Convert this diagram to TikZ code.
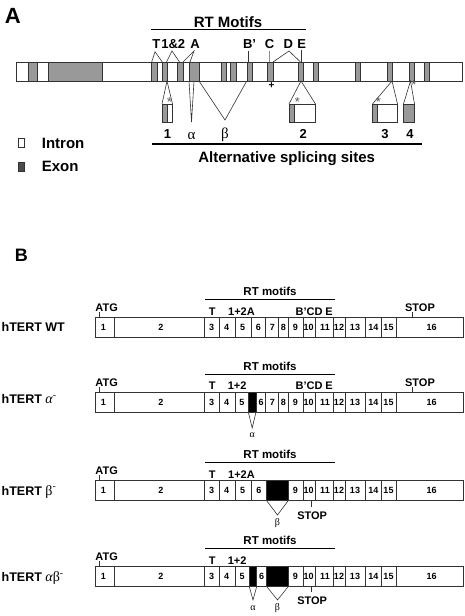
\documentclass[tikz,border=0pt]{standalone}
\usepackage{fontspec}
\setmainfont{Liberation Sans}
\newfontfamily\greekfont{Liberation Serif}
\begin{document}
\begin{tikzpicture}[x=1pt, y=-1pt,
        outline/.style={draw=black!80, line width=0.6pt},
        exon/.style={outline, fill=black!40},
        deleted/.style={outline, fill=black},
        rule/.style={line width=1.3pt},
        panel/.style={font=\fontsize{22}{24}\selectfont\bfseries, inner sep=0, anchor=base},
        headA/.style={font=\fontsize{15}{18}\selectfont\bfseries, inner sep=0, anchor=base},
        motif/.style={font=\fontsize{13}{15}\selectfont\bfseries, inner sep=0, anchor=base},
        star/.style={font=\fontsize{13}{15}\selectfont, text=black!65, inner sep=0},
        greekA/.style={font=\fontsize{15}{18}\selectfont\greekfont, inner sep=0, anchor=base},
        headB/.style={font=\fontsize{11.5}{14}\selectfont\bfseries, inner sep=0, anchor=base},
        tag/.style={font=\fontsize{11}{13}\selectfont\bfseries, inner sep=0, anchor=base},
        exnum/.style={font=\fontsize{9}{11}\selectfont\bfseries, inner sep=0},
        rowname/.style={font=\fontsize{12.5}{15}\selectfont\bfseries, inner sep=0, anchor=base west},
        greekB/.style={font=\fontsize{10}{12}\selectfont\greekfont, inner sep=0, anchor=base}]
    \useasboundingbox (0,0) rectangle (465,616);

    % A: gene with exons and motifs
    \node[panel] (labA) at (12.8,23.3) {A};
    \node[headA] (rtA) at (228,27.3) {RT Motifs};
    \draw[rule] (150.5,29.5) -- (306,29.5);
    \draw[outline] (16,62) rectangle (462,81);
    \foreach \a/\b in {28/37, 48/102, 151/157, 162/167, 177/183, 189/199, 221/226, 230/236,
                       247/252, 267/273, 298/303, 313/318, 355/360, 387/392, 409/414, 424/429}
        \draw[exon] (\a,62) rectangle (\b,81);

    \node[motif] (motT) at (156.3,48.3) {T};
    \node[motif] (mot12) at (173.3,48.3) {1\&2};
    \node[motif] (motA) at (195,48.3) {A};
    \node[motif] (motB) at (249.5,48.3) {B’};
    \node[motif] (motC) at (269.5,48.3) {C};
    \node[motif] (motD) at (288.3,48.3) {D};
    \node[motif] (motE) at (301.8,48.3) {E};
    \coordinate (apT) at (155,51.7);
    \coordinate (ap12) at (172,51);
    \coordinate (apA) at (194,51);
    \coordinate (apB) at (248.3,51);
    \coordinate (apC) at (269.5,51);
    \coordinate (apD) at (289,51);
    \coordinate (apE) at (301.5,50);
    \draw[outline] (151.7,62) -- (apT) -- (162.3,62);
    \draw[outline] (166.5,62) -- (ap12) -- (179.5,62);
    \draw[outline] (183,62) -- (apA) -- (190,62);
    \draw[outline] (apB) -- (248.3,62);
    \draw[outline, draw=black!45] (apC) -- (269.5,62);
    \draw[outline] (273,62) -- (apD) -- (300.5,62);
    \draw[outline] (apE) -- (301.5,62);
    \node[font=\fontsize{10}{12}\selectfont\bfseries, inner sep=0] (plus) at (271.5,86) {+};

    % A: alternative splicing sites
    \coordinate (s1) at (167,81);
    \draw[outline] (162,104) -- (s1) -- (172.5,104);
    \draw[outline] (162,104) rectangle (172.5,122);
    \draw[exon] (162,104) rectangle (167,122);
    \node[star] (ast1) at (169.5,102.5) {*};
    \coordinate (alTip) at (191.5,122);
    \draw[outline] (189,81) -- (alTip) -- (194,81);
    \coordinate (beTip) at (225,120);
    \draw[outline] (199,81) -- (beTip) -- (246.7,81);
    \coordinate (s2) at (301,81);
    \draw[outline] (289,104) -- (s2) -- (315.5,104);
    \draw[outline] (289,104) rectangle (315.5,122);
    \draw[exon] (289,104) rectangle (294,122);
    \node[star] (ast2) at (297.5,102.5) {*};
    \coordinate (s3) at (392,81);
    \draw[outline] (372.5,104) -- (s3) -- (397.5,104);
    \draw[outline] (372,104) rectangle (397.5,122);
    \draw[exon] (372,104) rectangle (377.5,122);
    \node[star] (ast3) at (378.5,102.5) {*};
    \coordinate (s4) at (410.5,81);
    \draw[outline] (403.5,104) -- (s4) -- (414.5,104);
    \draw[exon] (403.5,104) rectangle (414.5,122);
    \node[star] (ast4) at (414,85.5) {*};

    \node[motif] (site1) at (167.5,138.3) {1};
    \node[greekA] (alphaA) at (191.5,139.3) {α};
    \node[greekA] (betaA) at (225,138.7) {β};
    \node[motif] (site2) at (303.3,138.3) {2};
    \node[motif] (site3) at (385,138.3) {3};
    \node[motif] (site4) at (410,138.3) {4};
    \draw[rule] (151.5,144) -- (421.5,144);
    \node[headA] (altA) at (286.7,162.7) {Alternative splicing sites};

    % A: legend
    \node[outline, fill=white, minimum width=5.3pt, minimum height=9.3pt, inner sep=0] (swIntron) at (21.3,142.7) {};
    \node[headA, anchor=base west] (intron) at (41.7,148.3) {Intron};
    \node[outline, fill=black!70, minimum width=5.3pt, minimum height=9.3pt, inner sep=0] (swExon) at (21.3,167) {};
    \node[headA, anchor=base west] (exonA) at (41.7,171.7) {Exon};

    % B: transcripts
    \node[panel, font=\fontsize{18}{20}\selectfont\bfseries] (labB) at (21.3,261.7) {B};

    % hTERT WT
    \begin{scope}[shift={(0,317.5)}]
        \node[rowname] (wtName) at (1.5,14.2) {hTERT WT};
        \node[headB] (wtRT) at (270,-22) {RT motifs};
        \draw[rule] (205,-17.8) -- (335,-17.8);
        \node[tag] (wtATG) at (106.7,-5.8) {ATG};
        \node[tag] (wtT) at (212.3,-2.3) {T};
        \node[tag] (wt12) at (241.5,-2.3) {1+2A};
        \node[tag] (wtBE) at (314.2,-2.3) {B’CD E};
        \node[tag] (wtSTOP) at (420,-5.8) {STOP};
        \draw[outline] (99,-5.3) -- (99,0);
        \draw[outline] (412.7,-5.3) -- (412.7,0);
        \draw[outline] (95,0) rectangle (463.3,20);
        \foreach \x in {114.3,204.3,219.3,235.3,251,265.7,278.3,288.3,303.3,315,333.3,345,365,381.7,396.7}
            \draw[outline] (\x,0) -- (\x,20);
        \foreach \x/\n in {103.5/1,161/2,211.7/3,226.7/4,242.7/5,258.3/6,272.3/7,283.3/8,
                           295.3/9,308.7/10,325/11,339/12,355/13,373.3/14,388.5/15,431.7/16}
            \node[exnum] (wt\n) at (\x,10) {\n};
    \end{scope}

    % hTERT alpha-
    \begin{scope}[shift={(0,392)}]
        \node[rowname] (aName) at (1.5,11.5) {hTERT {\greekfont\mdseries\fontsize{14}{16}\selectfont\itshape α\textsuperscript{-}}};
        \node[headB] (aRT) at (270,-22) {RT motifs};
        \draw[rule] (205,-17.8) -- (335,-17.8);
        \node[tag] (aATG) at (106.7,-5.8) {ATG};
        \node[tag] (aT) at (212.3,-2.3) {T};
        \node[tag] (a12) at (237.2,-2.3) {1+2};
        \node[tag] (aBE) at (314.2,-2.3) {B’CD E};
        \node[tag] (aSTOP) at (420,-5.8) {STOP};
        \draw[outline] (99,-5.3) -- (99,0);
        \draw[outline] (412.7,-5.3) -- (412.7,0);
        \draw[outline] (95,0) rectangle (463.3,20);
        \foreach \x in {114.3,204.3,219.3,235.3,265.7,278.3,288.3,303.3,315,333.3,345,365,381.7,396.7}
            \draw[outline] (\x,0) -- (\x,20);
        \draw[deleted] (248.3,0) rectangle (256,20);
        \foreach \x/\n in {103.5/1,161/2,211.7/3,226.7/4,241.8/5,261/6,272.3/7,283.3/8,
                           295.3/9,308.7/10,325/11,339/12,355/13,373.3/14,388.5/15,431.7/16}
            \node[exnum] (a\n) at (\x,10) {\n};
        \coordinate (aTip) at (252.2,36);
        \draw[outline] (248.3,20) -- (aTip) -- (256,20);
        \node[greekB] (aLab) at (252.2,45) {α};
    \end{scope}

    % hTERT beta-
    \begin{scope}[shift={(0,480.5)}]
        \node[rowname] (bName) at (1.5,14.5) {hTERT {\greekfont\mdseries\fontsize{14}{16}\selectfont β\textsuperscript{-}}};
        \node[headB] (bRT) at (270,-22) {RT motifs};
        \draw[rule] (205,-17.8) -- (335,-17.8);
        \node[tag] (bATG) at (106.7,-5.8) {ATG};
        \node[tag] (bT) at (212.3,-2.3) {T};
        \node[tag] (b12) at (241.5,-2.3) {1+2A};
        \draw[outline] (99,-5.3) -- (99,0);
        \draw[outline] (95,0) rectangle (463.3,20);
        \foreach \x in {114.3,204.3,219.3,235.3,251,303.3,315,333.3,345,365,381.7,396.7}
            \draw[outline] (\x,0) -- (\x,20);
        \draw[deleted] (266.5,0) rectangle (288.3,20);
        \foreach \x/\n in {103.5/1,161/2,211.7/3,226.7/4,242.7/5,259/6,
                           295.3/9,308.7/10,325/11,339/12,355/13,373.3/14,388.5/15,431.7/16}
            \node[exnum] (b\n) at (\x,10) {\n};
        \coordinate (bTip) at (277.5,34.5);
        \draw[outline] (266.5,20) -- (bTip) -- (288.3,20);
        \node[greekB] (bLab) at (277.5,45) {β};
        \draw[outline] (311.7,20) -- (311.7,26);
        \node[tag] (bSTOP) at (312.2,38.5) {STOP};
    \end{scope}

    % hTERT alpha-beta-
    \begin{scope}[shift={(0,566.5)}]
        \node[rowname] (abName) at (1.5,15.2) {hTERT {\greekfont\mdseries\fontsize{14}{16}\selectfont{\itshape α}β\textsuperscript{-}}};
        \node[headB] (abRT) at (270,-22) {RT motifs};
        \draw[rule] (205,-17.8) -- (335,-17.8);
        \node[tag] (abATG) at (106.7,-5.8) {ATG};
        \node[tag] (abT) at (212.3,-2.3) {T};
        \node[tag] (ab12) at (237.2,-2.3) {1+2};
        \draw[outline] (99,-5.3) -- (99,0);
        \draw[outline] (95,0) rectangle (463.3,20);
        \foreach \x in {114.3,204.3,219.3,235.3,303.3,315,333.3,345,365,381.7,396.7}
            \draw[outline] (\x,0) -- (\x,20);
        \draw[deleted] (249.3,0) rectangle (256.7,20);
        \draw[deleted] (266.7,0) rectangle (288.3,20);
        \foreach \x/\n in {103.5/1,161/2,211.7/3,226.7/4,242/5,261.7/6,
                           295.3/9,308.7/10,325/11,339/12,355/13,373.3/14,388.5/15,431.7/16}
            \node[exnum] (ab\n) at (\x,10) {\n};
        \coordinate (abTipA) at (253,33.5);
        \draw[outline] (249.3,20) -- (abTipA) -- (256.7,20);
        \node[greekB] (abLabA) at (253,43.5) {α};
        \coordinate (abTipB) at (277.5,33.5);
        \draw[outline] (266.7,20) -- (abTipB) -- (288.3,20);
        \node[greekB] (abLabB) at (277.5,44) {β};
        \draw[outline] (311.7,20) -- (311.7,25.5);
        \node[tag] (abSTOP) at (312.2,37.5) {STOP};
    \end{scope}
\end{tikzpicture}
\end{document}
